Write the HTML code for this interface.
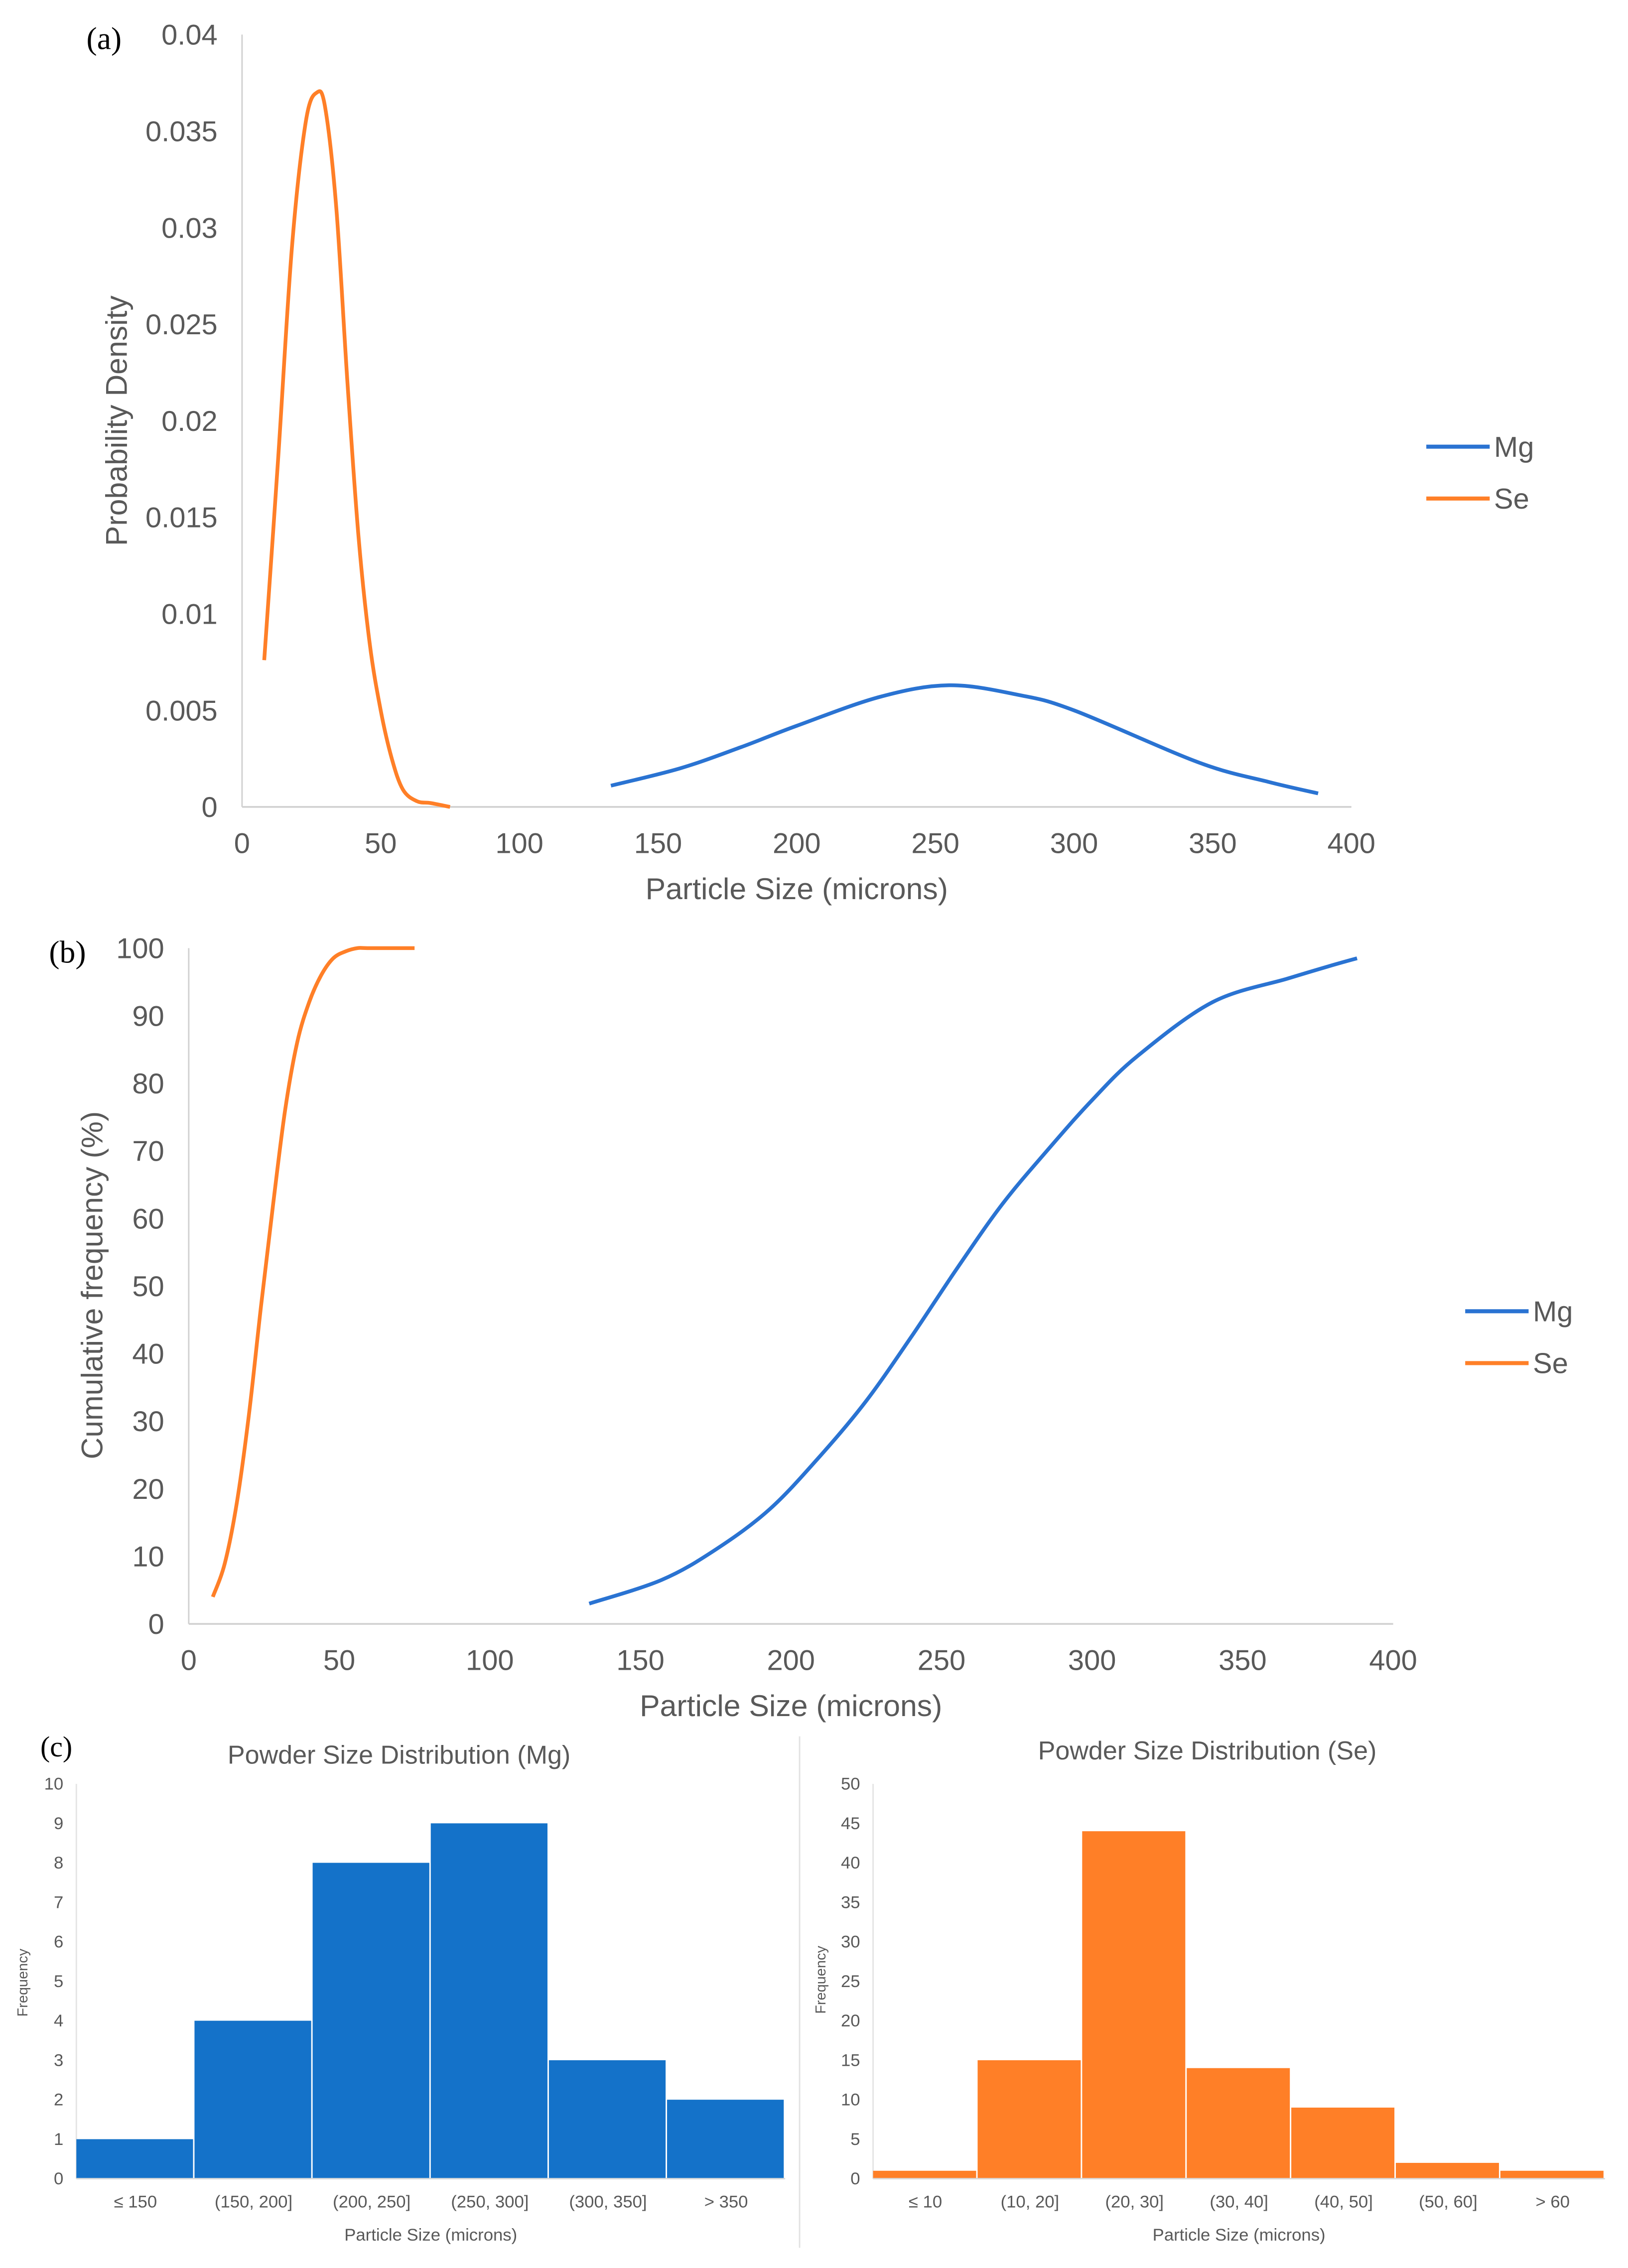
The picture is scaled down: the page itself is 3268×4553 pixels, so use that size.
<!DOCTYPE html>
<html><head><meta charset="utf-8"><style>
html,body{margin:0;padding:0;background:#fff;}
svg{display:block;}
text{font-family:"Liberation Sans Narrow","Liberation Sans",sans-serif;fill:#595959;}
.wide{font-family:"Liberation Sans",sans-serif;}
.serif{font-family:"Liberation Serif",serif;fill:#000;}
</style></head><body>
<svg id="fig" width="3268" height="4553" viewBox="0 0 1130 1574" preserveAspectRatio="none" xmlns="http://www.w3.org/2000/svg">
<g id="pa"></g>
<g id="pb"></g>
<g id="pc"></g>
</svg>
<script>
// ---- Panel (a) data ----
const pdfSeX = [8, 13, 18, 23, 27, 30, 34, 38, 42, 46, 50, 54, 58, 63, 68, 75];
const pdfSeY = [0.0076, 0.018, 0.029, 0.0355, 0.037, 0.0362, 0.031, 0.022, 0.014, 0.0085, 0.005, 0.0025, 0.0009, 0.0003, 0.0002, 0.0];
const pdfMgX = [133, 158, 180, 200, 230, 255, 280, 300, 345, 370, 388];
const pdfMgY = [0.0011, 0.002, 0.0031, 0.0042, 0.0057, 0.0063, 0.0058, 0.0050, 0.0023, 0.0013, 0.0007];
const pdfYTicks = ["0", "0.005", "0.01", "0.015", "0.02", "0.025", "0.03", "0.035", "0.04"];
const xTicks = [0, 50, 100, 150, 200, 250, 300, 350, 400];
// ---- Panel (b) data ----
const cumSeX = [8, 12, 16, 20, 24, 28, 32, 36, 40, 44, 48, 52, 56, 60, 75];
const cumSeY = [4, 9, 18, 31, 47, 62, 76, 86, 92, 96, 98.5, 99.5, 100, 100, 100];
const cumMgX = [133, 157, 175, 193, 210, 225, 240, 255, 270, 285, 300, 315, 340, 365, 380, 388];
const cumMgY = [3, 6.5, 11, 17, 25, 33, 42.5, 52.5, 62, 70, 77.5, 84, 92, 95.5, 97.5, 98.5];
const cumYTicks = [0, 10, 20, 30, 40, 50, 60, 70, 80, 90, 100];
// ---- Panel (c) data ----
const histMgCats = ["≤ 150", "(150, 200]", "(200, 250]", "(250, 300]", "(300, 350]", "> 350"];
const histMgVals = [1, 4, 8, 9, 3, 2];
const histMgTicks = [0,1,2,3,4,5,6,7,8,9,10];
const histSeCats = ["≤ 10", "(10, 20]", "(20, 30]", "(30, 40]", "(40, 50]", "(50, 60]", "> 60"];
const histSeVals = [1, 15, 44, 14, 9, 2, 1];
const histSeTicks = [0,5,10,15,20,25,30,35,40,45,50];

const NS = "http://www.w3.org/2000/svg";
const BLUE = "#2a73d2", ORANGE = "#ff7f27", AX = "#d0d0d0";
function mk(parent, tag, attrs, txt) {
  const e = document.createElementNS(NS, tag);
  for (const k in attrs) e.setAttribute(k, attrs[k]);
  if (txt !== undefined) e.textContent = txt;
  parent.appendChild(e);
  return e;
}
function smooth(pts) {
  let d = "M" + pts[0][0] + "," + pts[0][1];
  for (let i = 0; i < pts.length - 1; i++) {
    const p0 = pts[Math.max(i - 1, 0)], p1 = pts[i], p2 = pts[i + 1], p3 = pts[Math.min(i + 2, pts.length - 1)];
    const c1x = p1[0] + (p2[0] - p0[0]) / 6, c1y = p1[1] + (p2[1] - p0[1]) / 6;
    const c2x = p2[0] - (p3[0] - p1[0]) / 6, c2y = p2[1] - (p3[1] - p1[1]) / 6;
    d += " C" + c1x + "," + c1y + " " + c2x + "," + c2y + " " + p2[0] + "," + p2[1];
  }
  return d;
}
function lineChart(g, o) {
  const sx = v => o.x0 + (v - 0) / 400 * (o.x1 - o.x0);
  const sy = v => o.y0 - v / o.ymax * (o.y0 - o.y1);
  let e;
  e = mk(g, "line", {x1: o.x0, y1: o.y1, x2: o.x0, y2: o.y0, stroke: AX, "stroke-width": 1});
  
  
  e = mk(g, "line", {x1: o.x0, y1: o.y0, x2: o.x1, y2: o.y0, stroke: AX, "stroke-width": 1.2});
  
  
  o.yTicks.forEach(t => {
    e = mk(g, "text", {x: o.x0 - 17, y: sy(parseFloat(t)) + 7, "text-anchor": "end", "font-size": 20}, String(t));
    
    
  });
  xTicks.forEach(t => {
    e = mk(g, "text", {x: sx(t), y: o.y0 + 32, "text-anchor": "middle", "font-size": 20}, String(t));
    
    
  });
  e = mk(g, "text", {x: (o.x0 + o.x1) / 2, y: o.y0 + 64, "text-anchor": "middle", "font-size": 21}, "Particle Size (microns)");
  
  
  e = mk(g, "text", {x: 0, y: 0, "text-anchor": "middle", "font-size": 21, class: "wide", transform: "translate(" + o.ytx + "," + o.yty + ") rotate(-90)"}, o.ytitle);
  
  
  e = mk(g, "text", {x: o.lx, y: o.ly, "font-size": 22, class: "serif"}, o.label);
  
  
  const mg = o.mgX.map((v, i) => [sx(v), sy(o.mgY[i])]);
  e = mk(g, "path", {d: smooth(mg), fill: "none", stroke: BLUE, "stroke-width": 2.6, "stroke-linejoin": "round"});
  
  
  const se = o.seX.map((v, i) => [sx(v), sy(o.seY[i])]);
  e = mk(g, "path", {d: smooth(se), fill: "none", stroke: ORANGE, "stroke-width": 2.6, "stroke-linejoin": "round"});
  
  
  [["Mg", BLUE, 0], ["Se", ORANGE, 36]].forEach(([n, c, dy]) => {
    e = mk(g, "line", {x1: o.legx, y1: o.legy + dy, x2: o.legx + 44, y2: o.legy + dy, stroke: c, "stroke-width": 2.8});
    
    
    e = mk(g, "text", {x: o.legx + 47, y: o.legy + dy + 7, "font-size": 20}, n);
    
    
  });
}
lineChart(document.getElementById("pa"), {x0: 168, x1: 938, y0: 560, y1: 24, ymax: 0.04, yTicks: pdfYTicks,
  mgX: pdfMgX, mgY: pdfMgY, seX: pdfSeX, seY: pdfSeY, ytitle: "Probability Density", ytx: 88, yty: 292,
  label: "(a)", lx: 60, ly: 34, legx: 990, legy: 310});
lineChart(document.getElementById("pb"), {x0: 131, x1: 967, y0: 1127, y1: 658, ymax: 100, yTicks: cumYTicks,
  mgX: cumMgX, mgY: cumMgY, seX: cumSeX, seY: cumSeY, ytitle: "Cumulative frequency (%)", ytx: 71, yty: 892,
  label: "(b)", lx: 34, ly: 668, legx: 1017, legy: 910});

function hist(g, o) {
  const n = o.cats.length, bw = (o.x1 - o.x0) / n;
  const sy = v => o.y0 - v / o.ymax * (o.y0 - o.y1);
  let e;
  o.ticks.forEach(t => {
    e = mk(g, "text", {x: o.x0 - 9, y: sy(t) + 4, "text-anchor": "end", "font-size": 12}, String(t));
    
    
  });
  e = mk(g, "line", {x1: o.x0, y1: o.y1, x2: o.x0, y2: o.y0, stroke: "#e4e4e4", "stroke-width": 1});
  
  
  o.vals.forEach((v, i) => {
    e = mk(g, "rect", {x: o.x0 + i * bw, y: sy(v), width: bw - 1, height: o.y0 - sy(v), fill: o.color});
    
    
    e = mk(g, "text", {x: o.x0 + (i + 0.5) * bw, y: o.y0 + 20, "text-anchor": "middle", "font-size": 12}, o.cats[i]);
    
    
  });
  e = mk(g, "line", {x1: o.x0, y1: o.y0, x2: o.x1, y2: o.y0, stroke: "#d9d9d9", "stroke-width": 1});
  
  
  e = mk(g, "text", {x: (o.x0 + o.x1) / 2, y: o.y0 + 43, "text-anchor": "middle", "font-size": 12}, "Particle Size (microns)");
  
  
  e = mk(g, "text", {x: 0, y: 0, "text-anchor": "middle", "font-size": 10, class: "wide", transform: "translate(" + o.ytx + "," + o.yty + ") rotate(-90)"}, "Frequency");
  
  
  e = mk(g, "text", {x: o.tx, y: o.ty, "text-anchor": "middle", "font-size": 18}, o.title);
  
  
}
const pc = document.getElementById("pc");
let lab = mk(pc, "text", {x: 28, y: 1219, "font-size": 20, class: "serif"}, "(c)");


let div = mk(pc, "line", {x1: 555, y1: 1205, x2: 555, y2: 1560, stroke: "#e2e2e2", "stroke-width": 1});


hist(pc, {x0: 53, x1: 545, y0: 1512, y1: 1238, ymax: 10, ticks: histMgTicks, vals: histMgVals, cats: histMgCats,
  color: "#1472c9", title: "Powder Size Distribution (Mg)", tx: 277, ty: 1224, ytx: 19, yty: 1376});
hist(pc, {x0: 606, x1: 1114, y0: 1512, y1: 1238, ymax: 50, ticks: histSeTicks, vals: histSeVals, cats: histSeCats,
  color: "#ff7f27", title: "Powder Size Distribution (Se)", tx: 838, ty: 1221, ytx: 573, yty: 1374});
</script>
</body></html>
